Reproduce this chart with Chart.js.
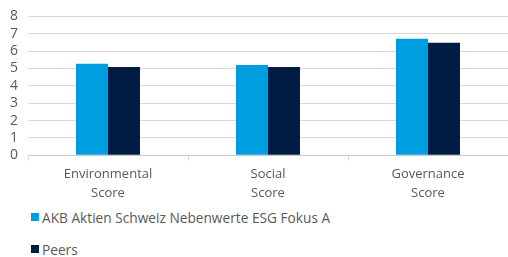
<!DOCTYPE html>
<html>
<head>
<meta charset="utf-8">
<script src="https://cdn.jsdelivr.net/npm/chart.js@4/dist/chart.umd.min.js"></script>
<style>
  html, body { margin: 0; padding: 0; background: #fff; }
  body { position: relative; width: 508px; height: 257px; overflow: hidden; font-family: "Open Sans", sans-serif; }
  #wrap { position: absolute; left: 0; top: -2px; width: 508px; height: 210px; }
  #legend { position: absolute; left: 31px; top: 208px; font-size: 13.7px; color: #595959; }
  .item { display: flex; align-items: center; height: 18px; margin-bottom: 14px; white-space: nowrap; }
  .box { width: 8px; height: 8px; margin-right: 3px; }
</style>
</head>
<body>
<div id="wrap"><canvas id="chart"></canvas></div>
<div id="legend"></div>
<script>
// chart data
const categories = [['Environmental', 'Score'], ['Social', 'Score'], ['Governance', 'Score']];
const fundName = 'AKB Aktien Schweiz Nebenwerte ESG Fokus A';
const fundValues = [5.28, 5.2, 6.71];
const peersName = 'Peers';
const peersValues = [5.09, 5.08, 6.48];
const yTicks = [0, 1, 2, 3, 4, 5, 6, 7, 8];

const fundColor = '#009ee0';
const peersColor = '#001c43';
const textColor = '#595959';
const gridColor = '#d9d9d9';

const chart = new Chart(document.getElementById('chart'), {
    type: 'bar',
    data: {
        labels: categories,
        datasets: [
            { label: fundName, data: fundValues, backgroundColor: fundColor, borderWidth: 0 },
            { label: peersName, data: peersValues, backgroundColor: peersColor, borderWidth: 0 },
        ],
    },
    options: {
        responsive: true,
        maintainAspectRatio: false,
        animation: false,
        categoryPercentage: 0.4,
        barPercentage: 1,
        layout: { padding: { top: 0, right: -4, left: 0, bottom: 0 } },
        plugins: { legend: { display: false }, tooltip: { enabled: false } },
        scales: {
            x: {
                grid: { drawOnChartArea: false, drawTicks: true, tickLength: 5, color: gridColor },
                border: { color: '#c8c8c8' },
                ticks: { color: textColor, font: { family: 'Open Sans', size: 13, lineHeight: 1.45 }, padding: 5, maxRotation: 0 },
            },
            y: {
                min: 0,
                max: 8,
                afterBuildTicks: (axis) => { axis.ticks = yTicks.map(v => ({ value: v })); },
                grid: { color: gridColor, drawTicks: false },
                border: { display: false },
                ticks: { color: textColor, font: { family: 'Open Sans', size: 14 }, padding: 10, autoSkip: false },
            },
        },
    },
});

// legend, one item per line as in the original
const legend = document.getElementById('legend');
chart.data.datasets.forEach(ds => {
    const row = document.createElement('div');
    row.className = 'item';
    row.innerHTML = '<span class="box" style="background:' + ds.backgroundColor + '"></span>' + ds.label;
    legend.appendChild(row);
});
</script>
</body>
</html>
